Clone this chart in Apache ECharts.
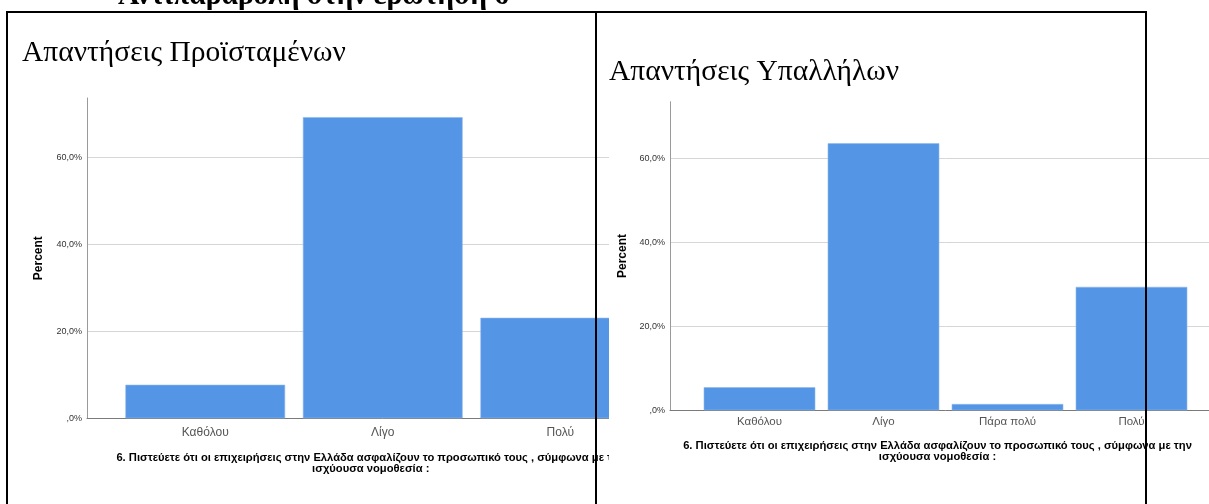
<!DOCTYPE html>
<html>
<head>
<meta charset="utf-8">
<script src="https://cdn.jsdelivr.net/npm/echarts@6/dist/echarts.min.js"></script>
<style>
  html, body { margin: 0; padding: 0; background: #fff; }
  #page { position: relative; width: 1209px; height: 504px; overflow: hidden; background: #fff; }
  #clipL { position: absolute; left: 0; top: 0; width: 609px; height: 504px; overflow: hidden; z-index: 2; }
  #chartL { position: absolute; left: 0; top: 0; width: 720px; height: 504px; }
  #clipR { position: absolute; left: 604px; top: 0; width: 605px; height: 504px; overflow: hidden; z-index: 1; }
  #chartR { position: absolute; left: 0; top: 0; width: 660px; height: 504px; }
  .rule { position: absolute; background: #000; z-index: 5; }
  #doctitle { position: absolute; left: 118px; top: -22px; font: bold 29.5px "Liberation Serif", "Times New Roman", serif; white-space: nowrap; z-index: 4; color: #000; }
</style>
</head>
<body>
<div id="page">
  <div id="doctitle">Αντιπαραβολή στην ερώτηση 6</div>
  <div id="clipL"><div id="chartL"></div></div>
  <div id="clipR"><div id="chartR"></div></div>
  <div class="rule" style="left:6px; top:11px; width:1141px; height:2px;"></div>
  <div class="rule" style="left:6px; top:11px; width:2px; height:493px;"></div>
  <div class="rule" style="left:595px; top:11px; width:2px; height:493px;"></div>
  <div class="rule" style="left:1145px; top:11px; width:2px; height:493px;"></div>
</div>
<script>
// ---- data ----
const titleLeft = 'Απαντήσεις Προϊσταμένων';
const titleRight = 'Απαντήσεις Υπαλλήλων';
const categoriesLeft = ['Καθόλου', 'Λίγο', 'Πολύ'];
const valuesLeft = [7.7, 69.2, 23.1];
const categoriesRight = ['Καθόλου', 'Λίγο', 'Πάρα πολύ', 'Πολύ'];
const valuesRight = [5.5, 63.6, 1.5, 29.4];
const yTickValues = [0, 20, 40, 60];
const yTickLabels = [',0%', '20,0%', '40,0%', '60,0%'];
const yAxisTitle = 'Percent';
const xAxisTitle = '6. Πιστεύετε ότι οι επιχειρήσεις στην Ελλάδα ασφαλίζουν το προσωπικό τους , σύμφωνα με την\nισχύουσα νομοθεσία :';

const SANS = '"Liberation Sans", Arial, sans-serif';
const SERIF = '"Liberation Serif", "Times New Roman", serif';
const BAR = '#5595e5';

function tickFmt(v) {
  const i = yTickValues.indexOf(Math.round(v * 10) / 10);
  return i >= 0 ? yTickLabels[i] : '';
}

function buildOption(cfg) {
  return {
    animation: false,
    title: {
      text: cfg.title, left: cfg.titleLeft, top: cfg.titleTop,
      textStyle: { fontFamily: SERIF, fontSize: 29.5, fontWeight: 'normal', color: '#000' }
    },
    grid: [
      { left: cfg.axisLeft, top: cfg.top, height: cfg.height, width: cfg.frameWidth, containLabel: false },
      { left: cfg.axisLeft + cfg.pad, top: cfg.top, height: cfg.height, width: cfg.band * cfg.categories.length, containLabel: false }
    ],
    xAxis: [
      {
        gridIndex: 0, type: 'category', data: cfg.categories,
        axisLine: { show: true, lineStyle: { color: '#7a7a7a', width: 1 } },
        axisTick: { show: false }, axisLabel: { show: false }, splitLine: { show: false }
      },
      {
        gridIndex: 1, type: 'category', data: cfg.categories,
        axisLine: { show: false }, axisTick: { show: false },
        axisLabel: { fontFamily: SANS, fontSize: cfg.catFont, color: '#555', margin: cfg.catMargin },
        name: xAxisTitle, nameLocation: 'middle', nameGap: cfg.nameGap,
        nameTextStyle: { fontFamily: SANS, fontSize: 11.2, fontWeight: 'bold', color: '#000', lineHeight: 11, padding: [0, cfg.nameShift, 0, 0] }
      }
    ],
    yAxis: [
      {
        gridIndex: 0, type: 'value', min: 0, max: cfg.max, interval: 20,
        axisLine: { show: true, lineStyle: { color: '#9a9a9a', width: 1 } },
        axisTick: { show: false },
        axisLabel: { fontFamily: SANS, fontSize: 9, color: '#333', margin: 5, formatter: tickFmt, showMaxLabel: false },
        splitLine: { show: true, showMaxLine: false, lineStyle: { color: '#d6d6d6', width: 1 } },
        name: yAxisTitle, nameLocation: 'middle', nameRotate: 90, nameGap: cfg.yNameGap,
        nameTextStyle: { fontFamily: SANS, fontSize: 12, fontWeight: 'bold', color: '#000' }
      },
      {
        gridIndex: 1, type: 'value', min: 0, max: cfg.max, interval: 20, show: false,
        splitLine: { show: false }
      }
    ],
    series: [{
      type: 'bar', xAxisIndex: 1, yAxisIndex: 1, data: cfg.values,
      barCategoryGap: '10%',
      itemStyle: { color: BAR, borderColor: '#8fb9ef', borderWidth: 0.6 }
    }]
  };
}

const chartL = echarts.init(document.getElementById('chartL'), null, { renderer: 'canvas' });
chartL.setOption(buildOption({
  title: titleLeft, titleLeft: 17, titleTop: 33,
  categories: categoriesLeft, values: valuesLeft,
  axisLeft: 87, top: 98, height: 320.3, frameWidth: 591, pad: 29.5, band: 177.5,
  max: 73.6, catFont: 12, catMargin: 8, nameGap: 34, yNameGap: 42, nameShift: 24
}));

const chartR = echarts.init(document.getElementById('chartR'), null, { renderer: 'canvas' });
chartR.setOption(buildOption({
  title: titleRight, titleLeft: 0, titleTop: 52,
  categories: categoriesRight, values: valuesRight,
  axisLeft: 66, top: 101.7, height: 308.6, frameWidth: 551, pad: 27.5, band: 124,
  max: 73.5, catFont: 11.5, catMargin: 6, nameGap: 30, yNameGap: 39, nameShift: 16
}));
</script>
</body>
</html>
